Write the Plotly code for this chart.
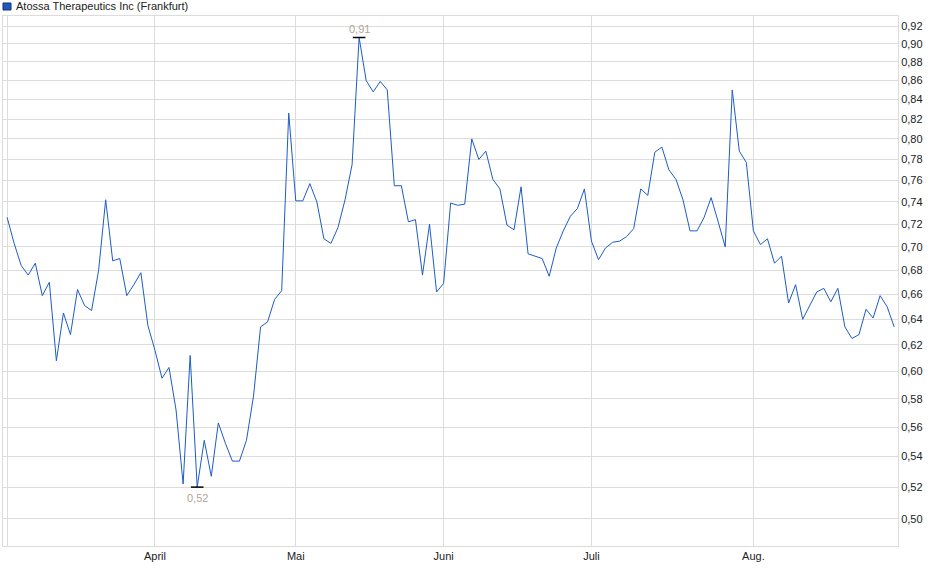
import math
import pandas as pd
import plotly.graph_objects as go

# Frankfurt trading days, March to end of August 2025
holidays = ["2025-04-18", "2025-04-21", "2025-05-01"]
dates = pd.bdate_range("2025-03-03", "2025-08-29", freq="C", holidays=holidays)

# closing prices in EUR
prices = [
    0.726, 0.703, 0.684, 0.676, 0.686, 0.659, 0.670, 0.608, 0.645, 0.628,
    0.664, 0.651, 0.647, 0.680, 0.742, 0.688, 0.690, 0.659, 0.668, 0.678,
    0.635, 0.616, 0.595, 0.603, 0.572, 0.522, 0.612, 0.520, 0.551, 0.527,
    0.563, 0.549, 0.537, 0.537, 0.551, 0.582, 0.634, 0.638, 0.656, 0.663,
    0.826, 0.741, 0.741, 0.757, 0.740, 0.707, 0.703, 0.717, 0.742, 0.775,
    0.907, 0.860, 0.848, 0.859, 0.850, 0.755, 0.755, 0.722, 0.724, 0.676,
    0.720, 0.662, 0.669, 0.739, 0.737, 0.738, 0.800, 0.780, 0.788, 0.761,
    0.752, 0.719, 0.715, 0.754, 0.694, 0.692, 0.690, 0.675, 0.699, 0.714,
    0.727, 0.734, 0.752, 0.705, 0.689, 0.699, 0.704, 0.705, 0.709, 0.716,
    0.752, 0.746, 0.787, 0.792, 0.770, 0.761, 0.742, 0.714, 0.714, 0.726,
    0.744, 0.722, 0.700, 0.850, 0.788, 0.777, 0.714, 0.702, 0.707, 0.686,
    0.692, 0.653, 0.668, 0.640, 0.651, 0.662, 0.665, 0.654, 0.665, 0.634,
    0.625, 0.628, 0.648, 0.641, 0.659, 0.650, 0.634,
]

series_name = "Atossa Therapeutics Inc (Frankfurt)"
month_ticks = ["2025-03-03", "2025-04-01", "2025-05-02", "2025-06-02", "2025-07-01", "2025-08-01"]
month_labels = ["", "April", "Mai", "Juni", "Juli", "Aug."]
y_ticks = [0.50, 0.52, 0.54, 0.56, 0.58, 0.60, 0.62, 0.64, 0.66, 0.68, 0.70,
           0.72, 0.74, 0.76, 0.78, 0.80, 0.82, 0.84, 0.86, 0.88, 0.90, 0.92]

line_color = "#1c5cc8"
grid_color = "#dcdcdc"
label_color = "#b0a595"

s = pd.Series(prices, index=dates)
hi_date, lo_date = s.idxmax(), s.idxmin()

fig = go.Figure()

fig.add_trace(go.Scatter(
    x=dates, y=prices, mode="lines", name=series_name,
    line=dict(color=line_color, width=1),
    showlegend=False,
))

# small black bars at high and low
fig.add_trace(go.Scatter(
    x=[hi_date, lo_date], y=[s.max(), s.min()], mode="markers",
    marker=dict(symbol="line-ew", size=9, line=dict(color="black", width=1.5)),
    showlegend=False, hoverinfo="skip",
))

# high / low labels (log axis -> annotation y in log10 units)
fig.add_annotation(x=hi_date, y=math.log10(s.max()), text=f"{s.max():.2f}".replace(".", ","),
                   showarrow=False, yanchor="bottom", yshift=1,
                   font=dict(color=label_color, size=11))
fig.add_annotation(x=lo_date, y=math.log10(s.min()), text=f"{s.min():.2f}".replace(".", ","),
                   showarrow=False, yanchor="top", yshift=-3,
                   font=dict(color=label_color, size=11))

# legend swatch + name, top left
fig.add_shape(type="rect", xref="paper", yref="paper",
              xsizemode="pixel", ysizemode="pixel", xanchor=0, yanchor=1,
              x0=0, x1=8, y0=6, y1=13,
              fillcolor="#1f57c3", line=dict(color="#15306e", width=1))
fig.add_annotation(xref="paper", yref="paper", x=0, y=1, xanchor="left", yanchor="bottom",
                   xshift=11, yshift=2, text=series_name, showarrow=False,
                   font=dict(size=11, color="#222222"))

fig.update_layout(
    width=940, height=579,
    margin=dict(l=3, r=42, t=16, b=33, autoexpand=False),
    paper_bgcolor="white", plot_bgcolor="white",
    font=dict(family="Liberation Sans, Arial, sans-serif", size=11, color="#222222"),
    separators=",.",
    showlegend=False,
    xaxis=dict(
        type="date",
        range=["2025-02-28 10:00", "2025-08-29 13:00"],
        rangebreaks=[dict(bounds=["sat", "mon"]), dict(values=holidays)],
        tickvals=month_ticks, ticktext=month_labels,
        showgrid=True, gridcolor=grid_color, gridwidth=1,
        showline=True, linecolor=grid_color, mirror=True,
        ticks="", zeroline=False, automargin=False,
    ),
    yaxis=dict(
        type="log",
        range=[-0.31564, -0.03084],
        side="right",
        tickvals=y_ticks, tickformat=".2f",
        showgrid=True, gridcolor=grid_color, gridwidth=1,
        showline=True, linecolor=grid_color, mirror=True,
        ticks="", zeroline=False, automargin=False,
    ),
)

# page has a default 8px body margin; drop it so the chart sits at the window corner
fig.write_html("out.html", config={"displayModeBar": False},
               post_script="document.body.style.margin='0';")
